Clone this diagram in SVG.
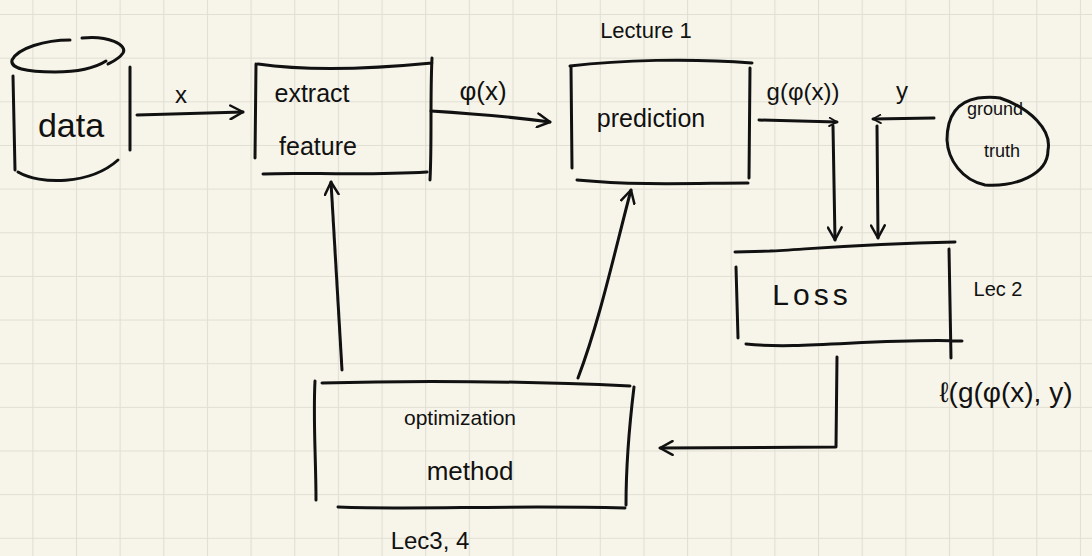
<svg xmlns="http://www.w3.org/2000/svg" width="1092" height="556" viewBox="0 0 1092 556">
<defs>
<pattern id="grid" width="43.65" height="43.65" patternUnits="userSpaceOnUse" x="-11.35" y="14">
<path d="M0,0 H43.65 M0,0 V43.65" fill="none" stroke="#e1dfd3" stroke-width="2.2"/>
</pattern>
<marker id="arr" viewBox="0 0 14 14" refX="12" refY="7" markerWidth="16" markerHeight="16" markerUnits="userSpaceOnUse" orient="auto">
<path d="M1,1 L12,7 L1,13" fill="none" stroke="#111" stroke-width="2.2" stroke-linecap="round" stroke-linejoin="round"/>
</marker>
<marker id="arrs" viewBox="0 0 14 14" refX="12" refY="7" markerWidth="10" markerHeight="10" markerUnits="userSpaceOnUse" orient="auto">
<path d="M1,1 L12,7 L1,13" fill="none" stroke="#111" stroke-width="2.5" stroke-linecap="round" stroke-linejoin="round"/>
</marker>
</defs>
<style>
.ln{fill:none;stroke:#111;stroke-width:3;stroke-linecap:round;stroke-linejoin:round}
.t{font-family:"Liberation Sans","DejaVu Sans",sans-serif;fill:#111;text-anchor:middle}
</style>
<rect width="1092" height="556" fill="#f7f5ea"/>
<rect width="1092" height="556" fill="url(#grid)"/>

<g id="data">
<path class="ln" d="M82,38 C108,35 128,45 123,53 C119,59 112,62 108,64"/>
<path class="ln" d="M70,40 C45,40 18,48 12,60 C10,68 25,72 55,72 C78,72 95,68 106,61"/>
<path class="ln" d="M13,76 L15,170 M130,67 L130,150 M18,172 C40,185 90,185 118,160"/>
<text class="t" x="71" y="137" font-size="34">data</text>
</g>

<g id="extract">
<path class="ln" d="M256,64 L255,158 M258,64 C300,70 360,70 432,63 M432,58 C430,100 432,140 430,180 M263,174 C300,172 360,176 427,172"/>
<text class="t" x="312" y="102" font-size="25">extract</text>
<text class="t" x="318" y="155" font-size="25">feature</text>
</g>

<g id="prediction">
<path class="ln" d="M570,66 C620,60 690,58 752,63 M571,67 L572,168 M750,68 L749,178 M577,180 C640,186 700,183 748,183"/>
<text class="t" x="651" y="127" font-size="25">prediction</text>
<text class="t" x="646" y="38" font-size="22">Lecture 1</text>
</g>

<g id="ground-truth">
<path class="ln" d="M1000,98 C1030,108 1052,130 1048,150 C1048,175 1015,187 985,185 C962,180 948,160 947,140 C947,118 955,102 978,98 C986,97 994,97 1000,98 Z"/>
<text class="t" x="995" y="115" font-size="18">ground</text>
<text class="t" x="1002" y="157" font-size="18">truth</text>
</g>

<g id="loss">
<path class="ln" d="M735,252 L770,251 M770,251 C800,250 850,244 955,242 M736,267 L738,338 M949,249 L951,358 M746,344 C800,350 880,338 962,341"/>
<text class="t" x="812" y="305" font-size="30" letter-spacing="4">Loss</text>
<text class="t" x="998" y="296" font-size="20">Lec 2</text>
<text class="t" x="1006" y="402" font-size="28">ℓ(g(φ(x), y)</text>
</g>

<g id="optimization">
<path class="ln" d="M315,381 C313,420 316,460 316,500 M322,383 C420,380 540,382 630,386 M634,387 C630,420 626,470 626,505 M338,507 C420,510 500,505 625,508"/>
<text class="t" x="460" y="425" font-size="21">optimization</text>
<text class="t" x="470" y="480" font-size="26">method</text>
<text class="t" x="430" y="549" font-size="24">Lec3, 4</text>
</g>

<g id="connectors">
<path class="ln" d="M137,115 L243,112" marker-end="url(#arr)"/>
<text class="t" x="181" y="103" font-size="24">x</text>
<path class="ln" d="M431,111 C480,114 520,118 550,122" marker-end="url(#arr)"/>
<text class="t" x="483" y="100" font-size="26">φ(x)</text>
<path class="ln" d="M342,370 L331,182" marker-end="url(#arr)"/>
<path class="ln" d="M578,378 C600,320 615,250 631,190" marker-end="url(#arr)"/>
<path class="ln" d="M759,120 L837,122" marker-end="url(#arrs)"/>
<path class="ln" d="M833,126 L835,240" marker-end="url(#arr)"/>
<text class="t" x="803" y="100" font-size="24">g(φ(x))</text>
<path class="ln" d="M934,118 L873,119" marker-end="url(#arrs)"/>
<path class="ln" d="M877,126 L878,238" marker-end="url(#arr)"/>
<text class="t" x="902" y="99" font-size="24">y</text>
<path class="ln" d="M837,357 L836,447 L660,448" marker-end="url(#arr)"/>
</g>
</svg>
